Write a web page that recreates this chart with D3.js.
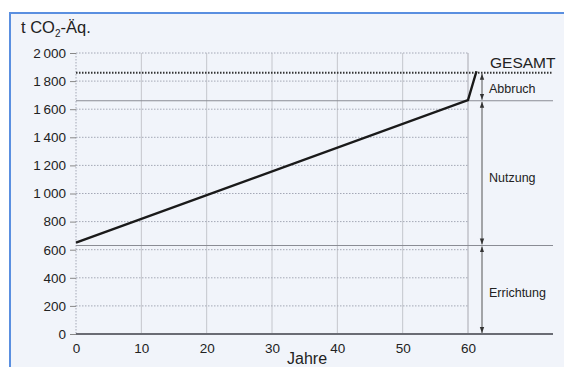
<!DOCTYPE html>
<html><head><meta charset="utf-8">
<script src="https://cdn.jsdelivr.net/npm/d3@7"></script>
<style>
html,body{margin:0;padding:0;background:#fff;}
svg{display:block;}
text{font-family:"Liberation Sans Narrow","Arial Narrow","Liberation Sans",sans-serif;fill:#222;}
</style></head><body>
<svg id="c" width="564" height="367"></svg>
<script>
// Data
const years = [0, 60, 61.3];
const emissions = [650, 1665, 1870];
const xTicks = [0, 10, 20, 30, 40, 50, 60];
const yTicks = [0, 200, 400, 600, 800, 1000, 1200, 1400, 1600, 1800, 2000];
const phaseBounds = [0, 630, 1660, 1860];
const phaseLabels = ["Errichtung", "Nutzung", "Abbruch"];
const totalLabel = "GESAMT";
const yTitle = "t CO";
const xTitle = "Jahre";

const svg = d3.select("#c");
const x = d3.scaleLinear().domain([0, 60]).range([76, 468]);
const y = d3.scaleLinear().domain([0, 2000]).range([334, 53]);
const xRight = 553, arrowX = 482;

// frame
svg.append("rect").attr("x", 10).attr("y", 13).attr("width", 560).attr("height", 360)
  .attr("fill", "#f1f4fa").attr("stroke", "#5a8fe0").attr("stroke-width", 2);

const defs = svg.append("defs");
defs.append("marker").attr("id", "ah").attr("viewBox", "0 0 6 6").attr("refX", 6).attr("refY", 3)
  .attr("markerWidth", 6).attr("markerHeight", 6).attr("orient", "auto-start-reverse")
  .attr("markerUnits", "userSpaceOnUse")
  .append("path").attr("d", "M0,0.8L6,3L0,5.2Z").attr("fill", "#333");

// vertical gridlines
svg.append("g").selectAll("line").data(xTicks.slice(1)).join("line")
  .attr("x1", d => x(d)).attr("x2", d => x(d)).attr("y1", y(2000)).attr("y2", y(0))
  .attr("stroke", d => d === 60 ? "#a8a8b0" : "#c4c6cc").attr("stroke-width", 1);

// horizontal dotted gridlines
svg.append("g").selectAll("line").data(yTicks.slice(1)).join("line")
  .attr("x1", x(0)).attr("x2", x(60)).attr("y1", d => y(d)).attr("y2", d => y(d))
  .attr("stroke", "#a4a8b6").attr("stroke-width", 1).attr("stroke-dasharray", "1.5,1.5");

// y axis (dotted)
svg.append("line").attr("x1", x(0)).attr("x2", x(0)).attr("y1", y(2000)).attr("y2", y(0))
  .attr("stroke", "#a4a8b6").attr("stroke-dasharray", "1.5,1.5");

// y ticks & labels
const yAxis = d3.axisLeft(y).tickValues(yTicks).tickSize(6).tickPadding(4)
  .tickFormat(d => d >= 1000 ? String(d).replace(/^(\d)(\d{3})$/, "$1\u2009$2") : d);
const ya = svg.append("g").attr("transform", `translate(${x(0)},0)`).call(yAxis);
ya.select(".domain").remove();
ya.selectAll(".tick line").attr("stroke", "#888");
ya.selectAll(".tick text").attr("font-size", 13.5).style("fill", "#222")
  .style("font-family", '"Liberation Sans Narrow","Liberation Sans",sans-serif');

// x labels
const xAxis = d3.axisBottom(x).tickValues(xTicks).tickSize(0).tickPadding(9);
const xa = svg.append("g").attr("transform", `translate(0,${y(0)})`).call(xAxis);
xa.select(".domain").remove();
xa.selectAll(".tick text").attr("font-size", 13.5).style("fill", "#222")
  .style("font-family", '"Liberation Sans Narrow","Liberation Sans",sans-serif');

// phase boundary lines
svg.append("g").selectAll("line").data(phaseBounds.slice(1, 3)).join("line")
  .attr("x1", x(0)).attr("x2", xRight).attr("y1", d => y(d)).attr("y2", d => y(d))
  .attr("stroke", "#8a8c94").attr("stroke-width", 1.2);
// total dotted
svg.append("line").attr("x1", x(0)).attr("x2", xRight)
  .attr("y1", y(phaseBounds[3])).attr("y2", y(phaseBounds[3]))
  .attr("stroke", "#333").attr("stroke-width", 2).attr("stroke-dasharray", "1.5,1.5");

// x baseline
svg.append("line").attr("x1", x(0)).attr("x2", xRight).attr("y1", y(0)).attr("y2", y(0))
  .attr("stroke", "#6a6c74").attr("stroke-width", 2);

// data line
const pts = years.map((d, i) => [d, emissions[i]]);
svg.append("path").datum(pts)
  .attr("d", d3.line().x(d => x(d[0])).y(d => y(d[1])))
  .attr("fill", "none").attr("stroke", "#1a1a1a").attr("stroke-width", 2.4);

// phase arrows
for (let i = 0; i < 3; i++) {
  svg.append("line").attr("x1", arrowX).attr("x2", arrowX)
    .attr("y1", y(phaseBounds[i]) - 1).attr("y2", y(phaseBounds[i + 1]) + 1)
    .attr("stroke", "#555").attr("stroke-width", 1)
    .attr("marker-start", "url(#ah)").attr("marker-end", "url(#ah)");
}

// phase labels
const labelY = [297, 182, 93];
phaseLabels.forEach((t, i) => {
  svg.append("text").attr("x", 489).attr("y", labelY[i]).attr("font-size", 12.5).text(t);
});
svg.append("text").attr("x", 490).attr("y", 68).attr("font-size", 15.5).text(totalLabel);

// titles
const yt = svg.append("text").attr("x", 21).attr("y", 33).attr("font-size", 16.5);
yt.append("tspan").text(yTitle);
yt.append("tspan").attr("font-size", 10).attr("dy", 4).text("2");
yt.append("tspan").attr("dy", -4).text("-Äq.");

svg.append("text").attr("x", 287).attr("y", 364).attr("font-size", 16).text(xTitle);
</script>
</body></html>
